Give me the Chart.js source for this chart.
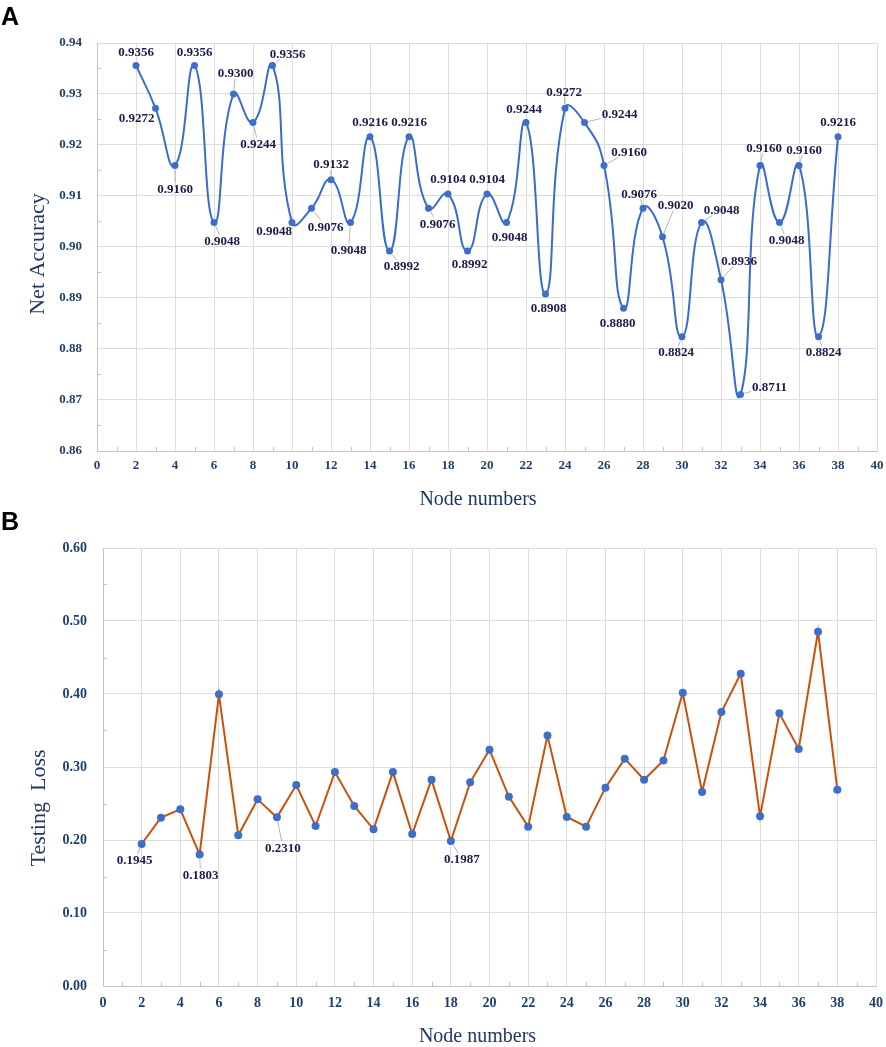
<!DOCTYPE html>
<html><head><meta charset="utf-8">
<script src="https://cdn.jsdelivr.net/npm/chart.js@4.4.1/dist/chart.umd.min.js"></script>
<style>
html,body{margin:0;padding:0;background:#fff;}
#wrap{position:relative;width:886px;height:1047px;overflow:hidden;background:#fff;}
canvas{position:absolute;left:0;}
.panel{position:absolute;left:1px;font-family:"Liberation Sans",Arial,sans-serif;font-weight:bold;font-size:25px;line-height:25px;color:#000;}
</style></head><body>
<div id="wrap">
<canvas id="cA" width="886" height="510" style="top:0"></canvas>
<canvas id="cB" width="886" height="537" style="top:510px"></canvas>
<div class="panel" style="top:4px">A</div>
<div class="panel" style="top:509px">B</div>
</div>
<script>
// ---- data ----
const nodes = [2,3,4,5,6,7,8,9,10,11,12,13,14,15,16,17,18,19,20,21,22,23,24,25,26,27,28,29,30,31,32,33,34,35,36,37,38];
const accuracy = [0.9356,0.9272,0.9160,0.9356,0.9048,0.9300,0.9244,0.9356,0.9048,0.9076,0.9132,0.9048,0.9216,0.8992,0.9216,0.9076,0.9104,0.8992,0.9104,0.9048,0.9244,0.8908,0.9272,0.9244,0.9160,0.8880,0.9076,0.9020,0.8824,0.9048,0.8936,0.8711,0.9160,0.9048,0.9160,0.8824,0.9216];
const loss = [0.1945,0.2306,0.2420,0.1803,0.3996,0.2064,0.2557,0.2310,0.2753,0.2192,0.2930,0.2466,0.2146,0.2930,0.2082,0.2826,0.1987,0.2790,0.3237,0.2594,0.2183,0.3430,0.2315,0.2183,0.2717,0.3114,0.2826,0.3090,0.4018,0.2658,0.3753,0.4279,0.2324,0.3735,0.3247,0.4854,0.2690];
const lossLabelledNodes = [2,5,9,18];
const xTicks = [0,2,4,6,8,10,12,14,16,18,20,22,24,26,28,30,32,34,36,38,40];
const xMinor = [1,3,5,7,9,11,13,15,17,19,21,23,25,27,29,31,33,35,37,39];
const accTicks = [0.86,0.87,0.88,0.89,0.90,0.91,0.92,0.93,0.94];
const accMinor = [0.865,0.875,0.885,0.895,0.905,0.915,0.925,0.935];
const lossTicks = [0.00,0.10,0.20,0.30,0.40,0.50,0.60];
const lossMinor = [0.05,0.15,0.25,0.35,0.45,0.55];
const xTitle = 'Node numbers';
const accTitle = 'Net Accuracy';
const lossTitle = 'Testing  Loss';

// ---- label placement (pixel offsets from the point) ----
const accLabelOffsets = [
 [0,-14],[-19,9],[0,23],[0,-14],[8,18],[2,-21],[5,21],[15,-12],[-18,8],[14,18],
 [0,-16],[-2,27],[0,-15],[12,15],[0,-15],[9,15],[0,-15],[2,13],[0,-15],[3,14],
 [-2,-14],[3,14],[-1,-17],[35,-9],[25,-14],[-6,14],[-4,-15],[13,-32],[-6,15],[20,-13],
 [18,-19],[29,-8],[4,-18],[7,17],[5,-16],[5,15],[0,-15]
];
const lossLabelOffsets = {2:[-7,16],5:[1,20],9:[6,30],18:[11,18]};

const TICK_COLOR = '#1F3F6E';
const TITLE_COLOR = '#1F3864';
const GRID = '#dcdcdc';
const BORDER = '#c4c4c4';
const SERIF = '"Liberation Serif", "Times New Roman", serif';

const pointLabels = {
  id:'pointLabels',
  afterDatasetsDraw(chart, args, opts){
    const ctx = chart.ctx;
    const meta = chart.getDatasetMeta(0);
    const ds = chart.data.datasets[0];
    ctx.save();
    ctx.font = 'bold 13px ' + SERIF;
    ctx.textAlign = 'center';
    ctx.textBaseline = 'middle';
    meta.data.forEach((pt,i)=>{
      const off = opts.offsetFor(i);
      if(!off) return;
      const text = ds.data[i].y.toFixed(4);
      const lx = pt.x + off[0], ly = pt.y + off[1];
      const w = ctx.measureText(text).width + 2, h = 12;
      const dx = lx - pt.x, dy = ly - pt.y;
      const tx = dx !== 0 ? (Math.abs(dx) - w/2) / Math.abs(dx) : -Infinity;
      const ty = dy !== 0 ? (Math.abs(dy) - h/2) / Math.abs(dy) : -Infinity;
      const s = Math.max(tx, ty);
      if (s > 0) {
        const dist = Math.hypot(dx, dy);
        const len = dist * s;
        const r = 4;
        if (len - r > 5) {
          ctx.strokeStyle = '#b4b4b4';
          ctx.lineWidth = 1;
          ctx.beginPath();
          ctx.moveTo(pt.x + dx/dist*r, pt.y + dy/dist*r);
          ctx.lineTo(pt.x + dx*s, pt.y + dy*s);
          ctx.stroke();
        }
      }
      ctx.fillStyle = '#1c1c4c';
      ctx.fillText(text, lx, ly + 1);
    });
    ctx.restore();
  }
};

const minorTicks = {
  id:'minorTicks',
  beforeDatasetsDraw(chart, args, opts){
    const {ctx, chartArea:a, scales:{x,y}} = chart;
    ctx.save();
    ctx.strokeStyle = BORDER;
    ctx.lineWidth = 1;
    ctx.beginPath();
    opts.x.forEach(v=>{const px=Math.round(x.getPixelForValue(v))+0.5; ctx.moveTo(px,a.bottom); ctx.lineTo(px,a.bottom-4);});
    opts.y.forEach(v=>{const py=Math.round(y.getPixelForValue(v))+0.5; ctx.moveTo(a.left,py); ctx.lineTo(a.left+4,py);});
    ctx.stroke();
    ctx.restore();
  }
};

// axis titles drawn at set spots relative to the plot area
const axisTitles = {
  id:'axisTitles',
  afterDraw(chart, args, opts){
    const {ctx, chartArea:a} = chart;
    ctx.save();
    ctx.fillStyle = TITLE_COLOR;
    ctx.textAlign = 'center';
    ctx.textBaseline = 'alphabetic';
    ctx.font = '20px ' + SERIF;
    ctx.fillText(opts.x, (a.left + a.right)/2 + opts.xShift, a.bottom + opts.xBase);
    ctx.translate(opts.yBaseX, (a.top + a.bottom)/2 + opts.yShift);
    ctx.rotate(-Math.PI/2);
    ctx.font = '22px ' + SERIF;
    ctx.fillText(opts.y, 0, 0);
    ctx.restore();
  }
};

function axes(cfg){
  return {
    x: {
      type:'linear', min:0, max:40,
      afterBuildTicks: s => { s.ticks = xTicks.map(v=>({value:v})); },
      afterFit: s => { s.height = cfg.xh; s.paddingLeft = 0; s.paddingRight = 0; },
      grid:{color:GRID, drawTicks:false},
      border:{color:BORDER},
      ticks:{padding:cfg.xpad, color:TICK_COLOR, font:{family:SERIF, weight:'bold', size:cfg.tf}, callback:v=>String(v), maxRotation:0, autoSkip:false},
      title:{display:false}
    },
    y: {
      type:'linear', min:cfg.ymin, max:cfg.ymax,
      afterBuildTicks: s => { s.ticks = cfg.yticks.map(v=>({value:v})); },
      afterFit: s => { s.width = cfg.yw; s.paddingTop = 0; s.paddingBottom = 0; },
      grid:{color:GRID, drawTicks:false},
      border:{color:BORDER},
      ticks:{padding:cfg.ypad, color:TICK_COLOR, font:{family:SERIF, weight:'bold', size:cfg.tf}, callback:v=>Number(v).toFixed(2), autoSkip:false},
      title:{display:false}
    }
  };
}

new Chart(document.getElementById('cA'), {
  type:'line',
  data:{datasets:[{
    data: nodes.map((n,i)=>({x:n, y:accuracy[i]})),
    borderColor:'#3a6bd0', borderWidth:2,
    pointBackgroundColor:'#3e6fc8', pointBorderColor:'#3e6fc8',
    pointRadius:3.5, pointBorderWidth:0,
    tension:0.5, fill:false
  }]},
  options:{
    responsive:false, animation:false,
    layout:{padding:{top:43,right:9,left:0,bottom:0}},
    scales: axes({xh:59, xpad:7, tf:13, ymin:0.86, ymax:0.94, yticks:accTicks, yw:97, ypad:15}),
    plugins:{legend:{display:false}, tooltip:{enabled:false},
      minorTicks:{x:xMinor, y:accMinor},
      pointLabels:{offsetFor:i=>accLabelOffsets[i]},
      axisTitles:{x:xTitle, y:accTitle, xShift:-9, xBase:54, yBaseX:44, yShift:7}
    }
  },
  plugins:[minorTicks, pointLabels, axisTitles]
});

new Chart(document.getElementById('cB'), {
  type:'line',
  data:{datasets:[{
    data: nodes.map((n,i)=>({x:n, y:loss[i]})),
    borderColor:'#c9510c', borderWidth:2,
    pointBackgroundColor:'#3e6fc8', pointBorderColor:'#3e6fc8',
    pointRadius:4, pointBorderWidth:0,
    tension:0, fill:false
  }]},
  options:{
    responsive:false, animation:false,
    layout:{padding:{top:38,right:10,left:0,bottom:0}},
    scales: axes({xh:61, xpad:9, tf:14, ymin:0, ymax:0.6, yticks:lossTicks, yw:103, ypad:16}),
    plugins:{legend:{display:false}, tooltip:{enabled:false},
      minorTicks:{x:xMinor, y:lossMinor},
      pointLabels:{offsetFor:i=>lossLabelledNodes.includes(nodes[i]) ? lossLabelOffsets[nodes[i]] : null},
      axisTitles:{x:xTitle, y:lossTitle, xShift:-12, xBase:56, yBaseX:45, yShift:41}
    }
  },
  plugins:[minorTicks, pointLabels, axisTitles]
});
</script>
</body></html>
